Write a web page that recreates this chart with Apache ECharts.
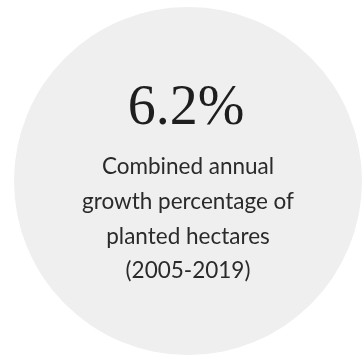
<!DOCTYPE html>
<html>
<head>
<meta charset="utf-8">
<script src="https://cdn.jsdelivr.net/npm/echarts@6/dist/echarts.min.js"></script>
<style>
  html, body { margin: 0; padding: 0; background: #fff; }
  #chart { width: 363px; height: 356px; }
</style>
</head>
<body>
<div id="chart"></div>
<script>
// headline figure and its caption
const statValue = '6.2%'
const captionLines = [
  'Combined annual',
  'growth percentage of',
  'planted hectares',
  '(2005-2019)'
]
// the disc itself is a one-slice pie
const discValues = [1]

const chart = echarts.init(document.getElementById('chart'))

const cx = 188
const captionTop = 167
const lineGap = 34.7

const captionText = captionLines.map((line, i) => ({
  type: 'text',
  x: cx,
  y: captionTop + i * lineGap,
  z: 10,
  silent: true,
  style: {
    text: line,
    fill: '#2a2a2a',
    font: '22.5px Lato, sans-serif',
    align: 'center',
    verticalAlign: 'middle'
  }
}))

const option = {
  animation: false,
  series: [
    {
      type: 'pie',
      center: [188, 181],
      radius: [0, 174],
      silent: true,
      label: { show: false },
      labelLine: { show: false },
      itemStyle: { color: '#efefef' },
      data: discValues.map(v => ({ value: v }))
    }
  ],
  graphic: [
    {
      type: 'text',
      x: 186,
      y: 109,
      z: 10,
      silent: true,
      style: {
        text: statValue,
        fill: '#1e1e1e',
        font: '56px "Liberation Serif", serif',
        align: 'center',
        verticalAlign: 'middle'
      }
    },
    ...captionText
  ]
}

chart.setOption(option)
</script>
</body>
</html>
